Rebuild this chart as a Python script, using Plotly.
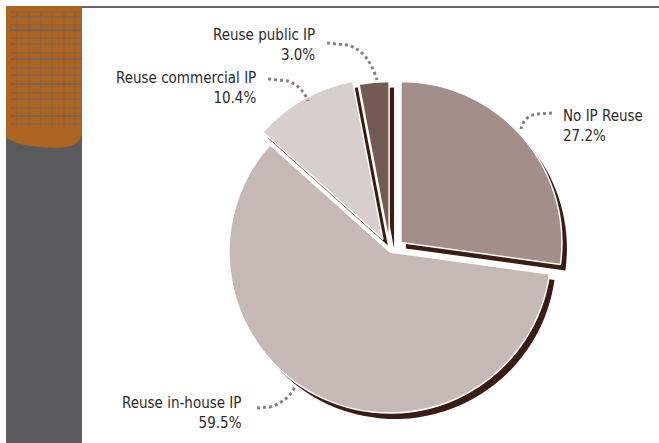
import plotly.graph_objects as go

W, H = 659, 443

# Survey result: share of respondents by IP reuse strategy
categories = ["No IP Reuse", "Reuse in-house IP", "Reuse commercial IP", "Reuse public IP"]
shares = [27.2, 59.5, 10.4, 3.0]

# Styling
pulls = [0.09, 0.0, 0.09, 0.06]
slice_colors = ["#a38e8a", "#c5b8b5", "#d8cfcc", "#735a55"]
shadow_color = "#3a1c12"
text_color = "#2b2b2b"
leader_color = "#8e7f7c"
font_family = "Liberation Sans Narrow, DejaVu Sans Condensed, Roboto Condensed, Liberation Sans, sans-serif"


def px(x):
    return x / W


def py(y):
    return 1 - y / H


def path(cmds):
    """Build an SVG path in paper units from pixel-space commands."""
    out = []
    for c in cmds:
        op, pts = c[0], c[1:]
        coords = " ".join(f"{px(x):.5f},{py(y):.5f}" for x, y in pts)
        out.append(f"{op} {coords}")
    return " ".join(out)


# Pie placement (pixels)
cx, cy, r = 390, 252, 161
box = 2 * r * (1 + max(pulls))
dom_x = [px(cx - box / 2), px(cx + box / 2)]
dom_y = [py(cy + box / 2), py(cy - box / 2)]
sdx, sdy = 5 / W, 6 / H

fig = go.Figure()

# drop shadow
fig.add_trace(go.Pie(
    labels=categories, values=shares, sort=False, direction="clockwise",
    rotation=0, pull=pulls, textinfo="none", hoverinfo="skip",
    marker=dict(colors=[shadow_color] * len(shares), line=dict(width=0)),
    domain=dict(x=[dom_x[0] + sdx, dom_x[1] + sdx], y=[dom_y[0] - sdy, dom_y[1] - sdy]),
    showlegend=False,
))

# slices
fig.add_trace(go.Pie(
    labels=categories, values=shares, sort=False, direction="clockwise",
    rotation=0, pull=pulls, textinfo="none", hoverinfo="label+percent",
    marker=dict(colors=slice_colors, line=dict(color="white", width=1.5)),
    domain=dict(x=dom_x, y=dom_y),
    showlegend=False,
))

# label anchors (pixels): x, y, xanchor
label_pos = {
    "No IP Reuse": (561, 126, "left"),
    "Reuse in-house IP": (244, 413, "right"),
    "Reuse commercial IP": (258, 88, "right"),
    "Reuse public IP": (317, 45, "right"),
}
for cat, val in zip(categories, shares):
    x, y, anchor = label_pos[cat]
    fig.add_annotation(
        x=px(x), y=py(y), xref="paper", yref="paper",
        xanchor=anchor, yanchor="middle", align=anchor,
        text=f"{cat}<br>{val:.1f}%", showarrow=False,
        font=dict(family=font_family, size=15, color=text_color),
    )

# dotted leader lines
leaders = [
    [("M", (327, 43)), ("L", (347, 45)), ("Q", (368, 50), (377, 80))],
    [("M", (268, 79)), ("L", (288, 81)), ("Q", (302, 86), (308, 101))],
    [("M", (552, 113)), ("L", (537, 114)), ("Q", (524, 116), (521, 129))],
    [("M", (257, 408)), ("L", (270, 407)), ("Q", (287, 402), (295, 387))],
]
shapes = []
for cmds in leaders:
    shapes.append(dict(
        type="path", xref="paper", yref="paper", path=path(cmds),
        line=dict(color=leader_color, width=3, dash="3px,3px"),
    ))

# side bar
shapes.append(dict(type="rect", xref="paper", yref="paper",
                   x0=px(6), x1=px(82), y0=py(443), y1=py(6),
                   fillcolor="#5b5b5d", line=dict(width=0), layer="below"))
shapes.append(dict(
    type="path", xref="paper", yref="paper", layer="below",
    path=path([("M", (6, 6)), ("L", (82, 6)), ("L", (82, 133)),
               ("Q", (80, 148), (55, 148)), ("L", (30, 146)),
               ("Q", (10, 142), (6, 137)), ("Z",)]),
    fillcolor="#ad6420", line=dict(width=0),
))
# woven texture in the orange band
for yy, w in [(12, 0.8), (17, 1.2), (25, 0.8), (30, 1.5), (38, 0.8), (44, 1.2),
              (53, 0.8), (59, 1.5), (68, 0.8), (75, 1.2), (84, 1.5), (93, 0.8),
              (99, 1.2), (108, 0.8), (116, 1.5), (124, 0.8)]:
    shapes.append(dict(type="line", xref="paper", yref="paper", layer="below",
                       x0=px(10), x1=px(82), y0=py(yy), y1=py(yy),
                       line=dict(color="#6a6163", width=w)))
for xx in [17, 29, 41, 52, 64, 75]:
    shapes.append(dict(type="line", xref="paper", yref="paper", layer="below",
                       x0=px(xx), x1=px(xx), y0=py(12), y1=py(128),
                       line=dict(color="#86603f", width=0.8)))

# top rule
shapes.append(dict(type="line", xref="paper", yref="paper",
                   x0=px(82), x1=px(659), y0=py(7), y1=py(7),
                   line=dict(color="#333333", width=1.5)))

fig.update_layout(
    width=W, height=H, margin=dict(l=0, r=0, t=0, b=0),
    paper_bgcolor="white", plot_bgcolor="white",
    shapes=shapes, showlegend=False,
)

fig.write_html("out.html")
